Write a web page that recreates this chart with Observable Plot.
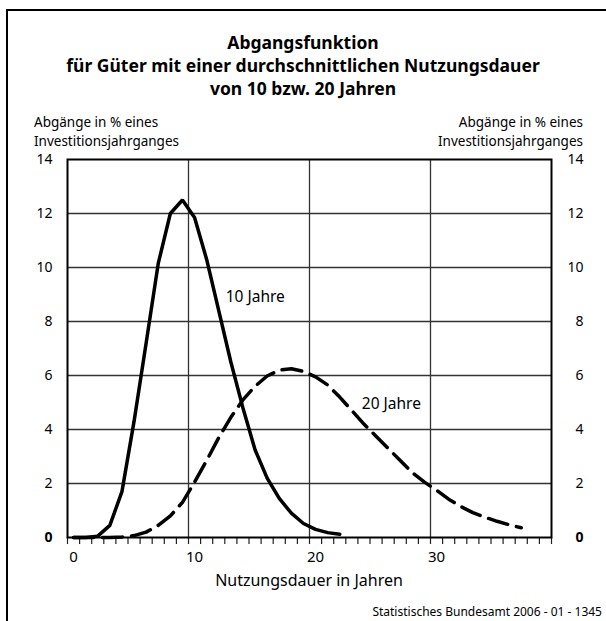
<!DOCTYPE html>
<html>
<head>
<meta charset="utf-8">
<script src="https://cdn.jsdelivr.net/npm/d3@7"></script>
<script src="https://cdn.jsdelivr.net/npm/@observablehq/plot@0.6"></script>
<style>
  html, body { margin: 0; padding: 0; background: #fff; }
  #wrap { position: relative; width: 606px; height: 621px; overflow: hidden; font-family: "Noto Sans", sans-serif; color: #000; }
  #border { position: absolute; left: 6px; top: 9px; right: -4px; bottom: -4px; border-top: 2px solid #000; border-left: 2px solid #000; }
  .t { position: absolute; white-space: nowrap; line-height: 1; }
  #title { left: 0; width: 606px; top: 31px; text-align: center; font-weight: bold; font-size: 17.5px; line-height: 23px; }
  .ylab { top: 113px; font-size: 13.5px; line-height: 19px; }
  #ylabL { left: 34px; }
  #ylabR { right: 23px; text-align: right; }
  #xlab { left: 0; width: 618px; text-align: center; top: 572px; font-size: 16px; }
  #cap { right: 4px; top: 606px; font-size: 12px; }
  #chart { position: absolute; left: 0; top: 0; }
</style>
</head>
<body>
<div id="wrap">
  <div id="border"></div>
  <div id="chart"></div>
  <div class="t" id="title">Abgangsfunktion<br>für Güter mit einer durchschnittlichen Nutzungsdauer<br>von 10 bzw. 20 Jahren</div>
  <div class="t ylab" id="ylabL">Abgänge in % eines<br>Investitionsjahrganges</div>
  <div class="t ylab" id="ylabR">Abgänge in % eines<br>Investitionsjahrganges</div>
  <div class="t" id="xlab">Nutzungsdauer in Jahren</div>
  <div class="t" id="cap">Statistisches Bundesamt 2006 - 01 - 1345</div>
</div>
<script>
// Years (midpoints of each year of use)
const years10 = [0.5,1.5,2.5,3.5,4.5,5.5,6.5,7.5,8.5,9.5,10.5,11.5,12.5,13.5,14.5,15.5,16.5,17.5,18.5,19.5,20.5,21.5,22.5];
const values10 = [0,0,0.05,0.45,1.7,4.3,7.2,10.15,12.0,12.5,11.85,10.3,8.4,6.5,4.8,3.25,2.2,1.45,0.9,0.52,0.3,0.18,0.12];

const years20 = [0.5,1.5,2.5,3.5,4.5,5.5,6.5,7.5,8.5,9.5,10.5,11.5,12.5,13.5,14.5,15.5,16.5,17.5,18.5,19.5,20.5,21.5,22.5,23.5,24.5,25.5,26.5,27.5,28.5,29.5,30.5,31.5,32.5,33.5,34.5,35.5,36.5,37.5];
const values20 = [0,0,0,0,0.02,0.07,0.2,0.45,0.8,1.3,2.05,2.85,3.7,4.45,5.1,5.6,5.98,6.2,6.25,6.15,5.95,5.65,5.2,4.7,4.2,3.75,3.3,2.85,2.4,2.05,1.75,1.42,1.15,0.92,0.75,0.6,0.47,0.36];

const seriesLabels = ["10 Jahre", "20 Jahre"];
const xTickLabels = [0, 10, 20, 30];
const yTickLabels = [0, 2, 4, 6, 8, 10, 12, 14];

const d10 = years10.map((x, i) => ({x, y: values10[i]}));
const d20 = years20.map((x, i) => ({x, y: values20[i]}));

const chart = Plot.plot({
  width: 606,
  height: 621,
  marginLeft: 67,
  marginRight: 55,
  marginTop: 159,
  marginBottom: 84,
  style: {fontFamily: "Noto Sans, sans-serif", fontSize: "14px", background: "transparent", color: "#000"},
  x: {domain: [0, 40]},
  y: {domain: [0, 14]},
  marks: [
    Plot.gridX([10, 20, 30], {stroke: "#333", strokeOpacity: 1, strokeWidth: 1.3}),
    Plot.gridY([2, 4, 6, 8, 10, 12], {stroke: "#333", strokeOpacity: 1, strokeWidth: 1.3}),
    Plot.axisX(d3.range(0, 41), {tickSize: 7, tickFormat: () => "", stroke: "#222", strokeWidth: 1.2, label: null}),
    Plot.axisX(xTickLabels, {tickSize: 0, tickPadding: 14, dx: 6, fontSize: 15, label: null}),
    Plot.axisY(yTickLabels.filter(d => d !== 0), {anchor: "left", tickSize: 0, tickPadding: 15, fontSize: 14, label: null}),
    Plot.axisY([0], {anchor: "left", tickSize: 0, tickPadding: 15, fontSize: 14, fontWeight: "bold", label: null}),
    Plot.axisY(yTickLabels.filter(d => d !== 0), {anchor: "right", tickSize: 0, tickPadding: 0, textAnchor: "end", dx: 32, fontSize: 14, label: null}),
    Plot.axisY([0], {anchor: "right", tickSize: 0, tickPadding: 0, textAnchor: "end", dx: 32, fontSize: 14, fontWeight: "bold", label: null}),
    Plot.line(d20, {x: "x", y: "y", stroke: "#000", strokeWidth: 3.5, strokeDasharray: "20,9", strokeLinejoin: "round"}),
    Plot.line(d10, {x: "x", y: "y", stroke: "#000", strokeWidth: 3.5, strokeLinejoin: "miter"}),
    Plot.frame({stroke: "#000", strokeWidth: 2}),
    Plot.text([d10[12]], {x: "x", y: "y", text: () => seriesLabels[0], textAnchor: "start", dx: 7, dy: -14, fontSize: 15.5}),
    Plot.text([d20[23]], {x: "x", y: "y", text: () => seriesLabels[1], textAnchor: "start", dx: 10, dy: -7, fontSize: 15.5})
  ]
});
document.getElementById("chart").appendChild(chart);
</script>
</body>
</html>
